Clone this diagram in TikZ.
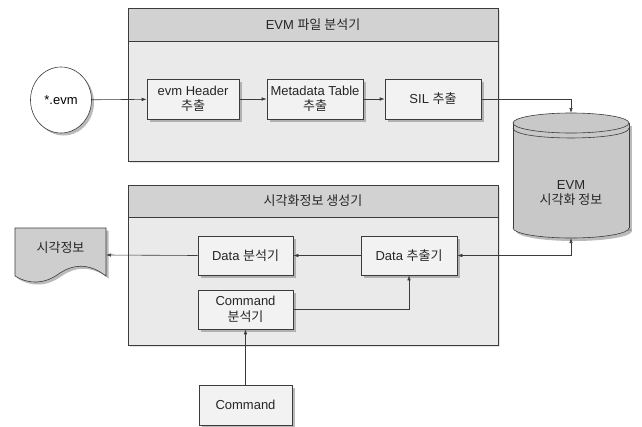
\documentclass[tikz,border=0pt]{standalone}
\usepackage{fontspec}
\setmainfont{Liberation Sans}
\newfontfamily\kr{Noto Sans CJK KR}
\usetikzlibrary{calc}
\usetikzlibrary{positioning}
\usetikzlibrary{shapes.geometric}
\usetikzlibrary{arrows.meta}
\usetikzlibrary{shadows}
\definecolor{headgray}{RGB}{210,210,210}
\definecolor{bodygray}{RGB}{234,234,234}
\definecolor{boxgray}{RGB}{242,242,242}
\definecolor{cylgray}{RGB}{200,200,200}
\definecolor{docgray}{RGB}{206,206,206}
\definecolor{linegray}{RGB}{60,60,60}
\tikzstyle{boxshadow} = [drop shadow={shadow xshift=2.5pt, shadow yshift=-2.5pt, fill=black!45, opacity=.6}]
\tikzstyle{framebody} = [draw=linegray, fill=bodygray, line width=0.6pt, drop shadow={shadow xshift=1.5pt, shadow yshift=-1.5pt, fill=black!20, opacity=.5}]
\tikzstyle{framehead} = [draw=linegray, fill=headgray, line width=0.6pt, text=black!85]
\tikzstyle{stepbox} = [draw=linegray, fill=boxgray, line width=0.6pt, boxshadow, align=center, inner sep=1pt, text=black!85]
\tikzstyle{flow} = [draw=linegray, line width=0.6pt, -{Latex[length=5pt,width=3.5pt]}]

\begin{document}
\begin{tikzpicture}[x=1pt, y=-1pt, font=\fontsize{13}{15.5}\selectfont]
\useasboundingbox (0,0) rectangle (642,426);

% EVM file parser frame
\node[framebody, minimum width=370, minimum height=153] (parse_frame) at (313,84.5) {};
\node[framehead, minimum width=370, minimum height=33, anchor=north] (parse_head) at (parse_frame.north) {EVM {\kr 파일 분석기}};

\node[draw=linegray, fill=white, ellipse, line width=0.6pt, boxshadow, minimum width=61, minimum height=66] (evm_file) at (61,100) {*.evm};
\node[stepbox, minimum width=92, minimum height=40] (hdr_step) at (193,99) {evm Header\\{\kr 추출}};
\node[stepbox, minimum width=96, minimum height=40] (meta_step) at ($(hdr_step)+(122,0)$) {Metadata Table\\{\kr 추출}};
\node[stepbox, minimum width=96, minimum height=40] (sil_step) at ($(meta_step)+(118,0)$) {SIL {\kr 추출}};

% visual info generator frame
\node[framebody, minimum width=370, minimum height=160] (gen_frame) at (313,265) {};
\node[framehead, minimum width=370, minimum height=32, anchor=north] (gen_head) at (gen_frame.north) {\kr 시각화정보 생성기};

\node[stepbox, minimum width=95, minimum height=39] (data_ana) at (245.5,255.5) {Data {\kr 분석기}};
\node[stepbox, minimum width=96, minimum height=39] (data_ext) at ($(data_ana)+(163.5,0)$) {Data {\kr 추출기}};
\node[stepbox, minimum width=95, minimum height=39] (cmd_ana) at ($(data_ana)+(0,54)$) {Command\\{\kr 분석기}};
\node[stepbox, minimum width=93, minimum height=40] (cmd_in) at ($(cmd_ana)+(0,95.5)$) {Command};

% EVM visual info store
\fill[black!45, opacity=.6] (574,231) ellipse (58 and 10);
\fill[black!45, opacity=.6] (516,126) rectangle (632,231);
\draw[linegray, line width=0.6pt, fill=cylgray] (571,228) ellipse (58 and 10);
\fill[cylgray] (513,123) rectangle (629,228);
\draw[linegray, line width=0.6pt] (513,123) -- (513,228) (629,123) -- (629,228);
\draw[linegray, line width=0.6pt, fill=cylgray] (571,123) ellipse (58 and 10);
\draw[linegray, line width=0.6pt] (513,128) .. controls (513,141.3) and (629,141.3) .. (629,128);
\node[align=center, text=black!85] (store) at (571,193) {EVM\\{\kr 시각화 정보}};
\coordinate (store_top) at (571,113);
\coordinate (store_bot) at (571,238);

% visual info document
\draw[linegray, line width=0.6pt, fill=docgray, boxshadow] (15,228) -- (106,228) -- (106,276)
  .. controls (88,262) and (72,265) .. (60,273)
  .. controls (45,284) and (30,285) .. (15,276) -- cycle;
\node[text=black!85] (info) at (60.5,248) {\kr 시각정보};
\coordinate (info_in) at (106,255);

\draw[flow] (evm_file) -- (hdr_step);
\draw[flow] (hdr_step) -- (meta_step);
\draw[flow] (meta_step) -- (sil_step);
\draw[flow] (sil_step.east) -| (store_top);
\draw[flow, {Latex[length=5pt,width=3.5pt]}-{Latex[length=5pt,width=3.5pt]}] (data_ext.east) -| (store_bot);
\draw[flow] (data_ext) -- (data_ana);
\draw[flow] (data_ana.west) -- (info_in);
\draw[flow] (cmd_ana.east) -| (data_ext.south);
\draw[flow] (cmd_in) -- (cmd_ana);
\end{tikzpicture}
\end{document}
